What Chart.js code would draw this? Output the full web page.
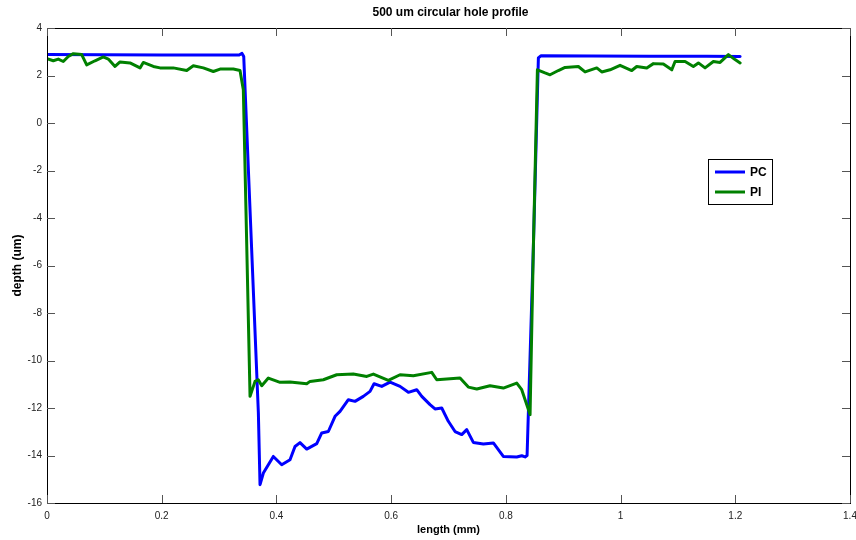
<!DOCTYPE html>
<html>
<head>
<meta charset="utf-8">
<script src="https://cdn.jsdelivr.net/npm/chart.js@4"></script>
<style>
  body { margin: 0; background: #fff; }
  canvas { display: block; }
</style>
</head>
<body>
<canvas id="profile-chart" width="856" height="540"></canvas>
<script>
// profile readings, length in mm / depth in um
var pcX = [0, 0.1, 0.2, 0.3, 0.335, 0.34, 0.343, 0.3685, 0.3714, 0.3772, 0.3946, 0.4092, 0.4237, 0.4324, 0.4411, 0.4528, 0.4703, 0.479, 0.4905, 0.5022, 0.5109, 0.5254, 0.537, 0.5515, 0.5632, 0.5702, 0.5836, 0.5981, 0.6155, 0.63, 0.6446, 0.6534, 0.6678, 0.6765, 0.6882, 0.6997, 0.7114, 0.7231, 0.7318, 0.7433, 0.7608, 0.7782, 0.7956, 0.819, 0.8277, 0.8335, 0.837, 0.848, 0.8567, 0.861, 0.95, 1.05, 1.15, 1.2084];
var pcY = [2.88, 2.87, 2.86, 2.86, 2.86, 2.93, 2.8, -12.2, -15.23, -14.74, -14.04, -14.39, -14.18, -13.62, -13.46, -13.73, -13.5, -13.05, -12.99, -12.35, -12.14, -11.65, -11.72, -11.51, -11.3, -10.98, -11.09, -10.91, -11.09, -11.34, -11.23, -11.51, -11.86, -12.04, -12.0, -12.56, -12.99, -13.12, -12.91, -13.45, -13.52, -13.47, -14.04, -14.06, -14.01, -14.06, -14.0, -5.2, 2.74, 2.83, 2.82, 2.81, 2.81, 2.8];

var piX = [0, 0.011, 0.0197, 0.0284, 0.0371, 0.0459, 0.0605, 0.0692, 0.0837, 0.0982, 0.1069, 0.1186, 0.1273, 0.1447, 0.1622, 0.1679, 0.1854, 0.197, 0.2202, 0.2436, 0.2551, 0.2725, 0.29, 0.3017, 0.3249, 0.3365, 0.3423, 0.354, 0.3627, 0.3684, 0.3744, 0.3859, 0.4063, 0.4237, 0.4528, 0.4586, 0.4818, 0.5051, 0.5341, 0.5575, 0.569, 0.5951, 0.6155, 0.6387, 0.6708, 0.6795, 0.697, 0.7201, 0.7346, 0.7493, 0.7724, 0.7956, 0.819, 0.8277, 0.8422, 0.848, 0.855, 0.8683, 0.8771, 0.8915, 0.9032, 0.9264, 0.9381, 0.9585, 0.9672, 0.9817, 0.9991, 1.0195, 1.0282, 1.0457, 1.0572, 1.0746, 1.0893, 1.095, 1.1125, 1.1269, 1.1357, 1.1473, 1.1618, 1.1735, 1.188, 1.1996, 1.2084];
var piY = [2.71, 2.62, 2.69, 2.59, 2.8, 2.92, 2.88, 2.45, 2.62, 2.78, 2.69, 2.38, 2.57, 2.53, 2.32, 2.55, 2.38, 2.32, 2.32, 2.21, 2.41, 2.32, 2.17, 2.27, 2.27, 2.21, 1.4, -11.51, -10.88, -10.81, -11.06, -10.74, -10.92, -10.91, -10.98, -10.88, -10.81, -10.6, -10.57, -10.67, -10.57, -10.84, -10.6, -10.64, -10.5, -10.81, -10.78, -10.74, -11.12, -11.2, -11.06, -11.16, -10.95, -11.23, -12.28, -5.2, 2.24, 2.11, 2.03, 2.21, 2.34, 2.38, 2.15, 2.32, 2.15, 2.24, 2.43, 2.21, 2.38, 2.32, 2.5, 2.48, 2.24, 2.59, 2.59, 2.38, 2.53, 2.32, 2.59, 2.55, 2.88, 2.67, 2.53];

var seriesNames = ['PC', 'PI'];
var xTicks = [0, 0.2, 0.4, 0.6, 0.8, 1, 1.2, 1.4];
var yTicks = [-16, -14, -12, -10, -8, -6, -4, -2, 0, 2, 4];

function toPoints(xs, ys) {
    return xs.map(function (x, i) { return { x: x, y: ys[i] }; });
}

// matlab style box: frame on all 4 sides + ticks pointing inward
var boxPlugin = {
    id: 'box',
    afterDraw: function (chart) {
        var ctx = chart.ctx, a = chart.chartArea;
        var xs = chart.scales.x, ys = chart.scales.y;
        ctx.save();
        ctx.strokeStyle = '#000';
        ctx.lineWidth = 1;
        ctx.strokeRect(a.left + 0.5, a.top + 0.5, a.right - a.left, a.bottom - a.top);
        ctx.strokeStyle = '#555';
        ctx.beginPath();
        xs.ticks.forEach(function (t) {
            var px = Math.round(xs.getPixelForValue(t.value)) + 0.5;
            ctx.moveTo(px, a.bottom); ctx.lineTo(px, a.bottom - 8);
            ctx.moveTo(px, a.top); ctx.lineTo(px, a.top + 8);
        });
        ys.ticks.forEach(function (t) {
            var py = Math.round(ys.getPixelForValue(t.value)) + 0.5;
            ctx.moveTo(a.left, py); ctx.lineTo(a.left + 8, py);
            ctx.moveTo(a.right, py); ctx.lineTo(a.right - 8, py);
        });
        ctx.stroke();

        // title
        ctx.fillStyle = '#000';
        ctx.font = 'bold 12px "Liberation Sans", Arial, sans-serif';
        ctx.textAlign = 'center';
        ctx.textBaseline = 'middle';
        ctx.fillText('500 um circular hole profile', (a.left + a.right) / 2 + 2, 13);

        // legend
        var lx = 708.5, ly = 159.5, lw = 64, lh = 45;
        ctx.fillStyle = '#fff';
        ctx.fillRect(lx, ly, lw, lh);
        ctx.strokeStyle = '#000';
        ctx.strokeRect(lx, ly, lw, lh);
        ctx.textAlign = 'left';
        ctx.font = 'bold 12px "Liberation Sans", Arial, sans-serif';
        chart.data.datasets.forEach(function (ds, i) {
            var yy = 172 + i * 20;
            ctx.strokeStyle = ds.borderColor;
            ctx.lineWidth = 3;
            ctx.beginPath();
            ctx.moveTo(715, yy); ctx.lineTo(745, yy);
            ctx.stroke();
            ctx.fillStyle = '#000';
            ctx.fillText(ds.label, 750, yy + 1);
        });
        ctx.restore();
    }
};

var ctx = document.getElementById('profile-chart').getContext('2d');
var profileChart = new Chart(ctx, {
    type: 'scatter',
    data: {
        datasets: [{
            label: seriesNames[0],
            data: toPoints(pcX, pcY),
            borderColor: '#0000ff',
            backgroundColor: '#0000ff',
            borderWidth: 3,
            borderJoinStyle: 'round',
            borderCapStyle: 'round',
            showLine: true,
            pointRadius: 0,
            order: 1
        }, {
            label: seriesNames[1],
            data: toPoints(piX, piY),
            borderColor: '#008000',
            backgroundColor: '#008000',
            borderWidth: 3,
            borderJoinStyle: 'round',
            borderCapStyle: 'round',
            showLine: true,
            pointRadius: 0,
            order: 0
        }]
    },
    options: {
        responsive: false,
        animation: false,
        devicePixelRatio: 1,
        layout: { padding: { top: 28, right: 6, left: 0, bottom: 0 } },
        plugins: {
            legend: { display: false },
            tooltip: { enabled: false }
        },
        scales: {
            x: {
                type: 'linear',
                min: 0,
                max: 1.4,
                afterBuildTicks: function (scale) {
                    scale.ticks = xTicks.map(function (v) { return { value: v }; });
                },
                afterFit: function (scale) {
                    scale.height = 37;
                    scale.paddingLeft = 0;
                    scale.paddingRight = 0;
                },
                grid: { display: true, drawOnChartArea: false, drawTicks: false },
                border: { display: true, color: '#000', width: 1 },
                ticks: {
                    padding: 7,
                    maxRotation: 0,
                    autoSkip: false,
                    color: '#222',
                    font: { family: '"Liberation Sans", Arial, sans-serif', size: 10 },
                    callback: function (v) { return String(+v.toFixed(1)); }
                },
                title: {
                    display: true,
                    text: 'length (mm)',
                    color: '#000',
                    padding: { top: 0, bottom: 3 },
                    font: { family: '"Liberation Sans", Arial, sans-serif', size: 11, weight: 'bold' }
                }
            },
            y: {
                type: 'linear',
                min: -16,
                max: 4,
                afterBuildTicks: function (scale) {
                    scale.ticks = yTicks.map(function (v) { return { value: v }; });
                },
                afterFit: function (scale) {
                    scale.width = 47;
                    scale.paddingTop = 0;
                    scale.paddingBottom = 0;
                },
                grid: { display: true, drawOnChartArea: false, drawTicks: false },
                border: { display: true, color: '#000', width: 1 },
                ticks: {
                    padding: 5,
                    autoSkip: false,
                    color: '#222',
                    font: { family: '"Liberation Sans", Arial, sans-serif', size: 10 }
                },
                title: {
                    display: true,
                    text: 'depth (um)',
                    color: '#000',
                    padding: { top: 10, bottom: 0 },
                    font: { family: '"Liberation Sans", Arial, sans-serif', size: 12, weight: 'bold' }
                }
            }
        }
    },
    plugins: [boxPlugin]
});
</script>
</body>
</html>
